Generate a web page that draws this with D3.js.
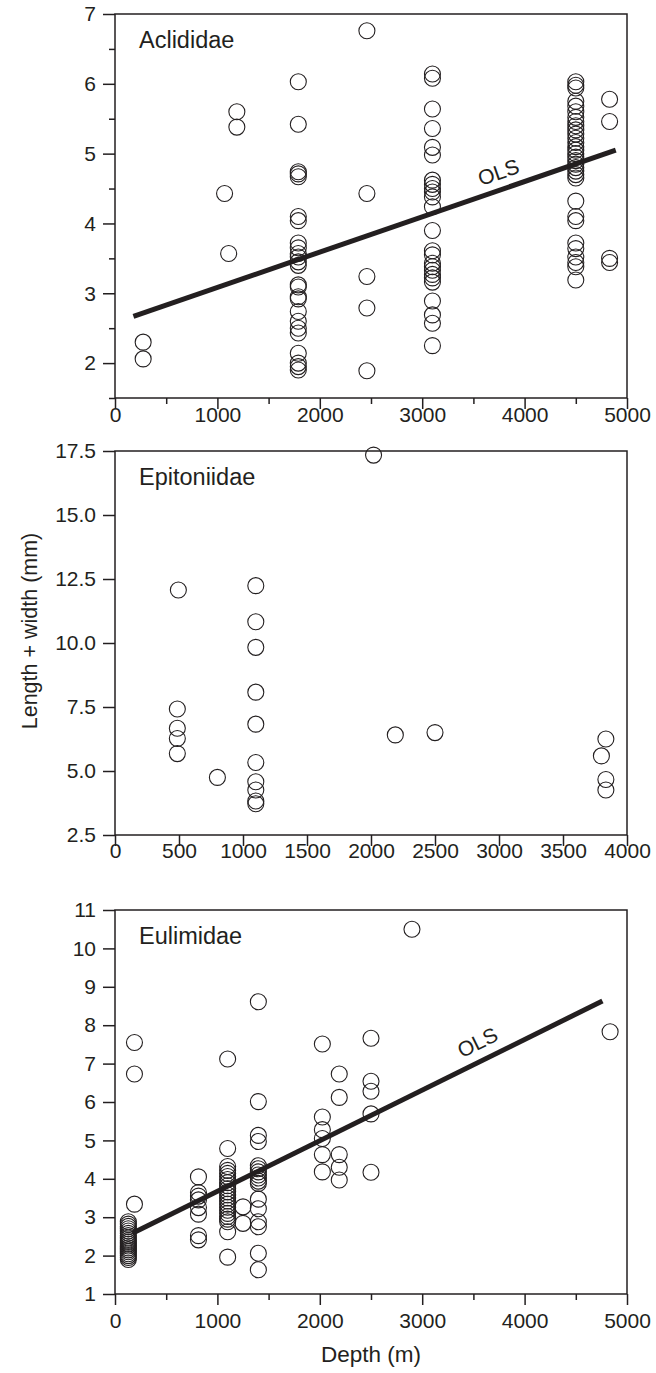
<!DOCTYPE html>
<html>
<head>
<meta charset="utf-8">
<script src="https://cdn.jsdelivr.net/npm/d3@7.8.5/dist/d3.min.js"></script>
<style>
  body { margin: 0; background: #fff; }
  svg text { font-family: "Liberation Sans", Arial, Helvetica, sans-serif; fill: #231f20; }
  .tick text { font-size: 21px; }
</style>
</head>
<body>
<div id="chart"></div>
<script>
// Aclididae - one entry per depth column
const aclDepths = [275, 1070, 1110, 1190, 1790, 2460, 3100, 4500, 4830];
const aclSizes = [
  [2.30, 2.06],
  [4.43],
  [3.57],
  [5.60, 5.38],
  [6.03, 5.42, 4.74, 4.71, 4.67, 4.10, 4.04, 3.72, 3.65, 3.57, 3.52, 3.45, 3.40, 3.12, 3.09, 2.95, 2.92, 2.74, 2.60, 2.50, 2.43, 2.14, 2.00, 1.95, 1.90],
  [6.76, 4.43, 3.24, 2.79, 1.89],
  [6.14, 6.08, 5.64, 5.36, 5.09, 4.98, 4.62, 4.56, 4.50, 4.45, 4.38, 4.24, 3.90, 3.61, 3.55, 3.43, 3.38, 3.33, 3.27, 3.22, 3.16, 2.89, 2.69, 2.57, 2.25],
  [6.03, 5.98, 5.94, 5.75, 5.68, 5.60, 5.52, 5.46, 5.40, 5.34, 5.28, 5.22, 5.16, 5.10, 5.05, 5.00, 4.95, 4.90, 4.85, 4.80, 4.75, 4.70, 4.65, 4.32, 4.10, 4.04, 3.72, 3.64, 3.52, 3.44, 3.38, 3.19],
  [5.78, 5.46, 3.50, 3.44]
];
const aclOls = [[180, 2.67], [4890, 5.05]];
const aclYTicks = [2, 3, 4, 5, 6, 7];
const aclYMinor = [1.5, 2.5, 3.5, 4.5, 5.5, 6.5];
const aclXTicks = [0, 1000, 2000, 3000, 4000, 5000];
const aclXMinor = [500, 1500, 2500, 3500, 4500];

// Epitoniidae
const epiDepths = [495, 487, 800, 1100, 2020, 2190, 2500, 3800, 3835];
const epiSizes = [
  [12.07],
  [7.42, 6.67, 6.27, 5.68],
  [4.75],
  [12.24, 10.83, 9.83, 8.08, 6.83, 5.33, 4.58, 4.26, 3.83, 3.72],
  [17.34],
  [6.41],
  [6.50],
  [5.59],
  [6.25, 4.67, 4.26]
];
const epiYTicks = [2.5, 5, 7.5, 10, 12.5, 15, 17.5];
const epiXTicks = [0, 500, 1000, 1500, 2000, 2500, 3000, 3500, 4000];

// Eulimidae
const eulDepths = [130, 190, 815, 1100, 1250, 1400, 2025, 2190, 2500, 2900, 4835];
const eulSizes = [
  [2.88, 2.82, 2.76, 2.70, 2.64, 2.58, 2.52, 2.46, 2.40, 2.35, 2.30, 2.25, 2.20, 2.15, 2.10, 2.05, 2.00, 1.95, 1.90],
  [7.55, 6.73, 3.34],
  [4.05, 3.64, 3.55, 3.45, 3.25, 3.08, 2.52, 2.41],
  [7.12, 4.79, 4.32, 4.22, 4.14, 4.06, 3.98, 3.90, 3.82, 3.74, 3.66, 3.58, 3.50, 3.42, 3.34, 3.26, 3.18, 3.10, 3.02, 2.95, 2.88, 2.62, 1.96],
  [3.27, 2.84],
  [8.61, 6.01, 5.13, 4.97, 4.34, 4.26, 4.18, 4.10, 4.02, 3.94, 3.88, 3.47, 3.22, 2.88, 2.75, 2.06, 1.63],
  [7.51, 5.61, 5.28, 5.05, 4.63, 4.18],
  [6.73, 6.12, 4.63, 4.30, 3.97],
  [7.66, 6.54, 6.28, 5.69, 4.17],
  [10.50],
  [7.83]
];
const eulOls = [[170, 2.58], [4760, 8.63]];
const eulYTicks = [1, 2, 3, 4, 5, 6, 7, 8, 9, 10, 11];
const eulXTicks = [0, 1000, 2000, 3000, 4000, 5000];
const eulXMinor = [500, 1500, 2500, 3500, 4500];

const width = 656;
const height = 1373;
const left = 115;
const right = 627;
const ink = "#231f20";

const svg = d3.select("#chart")
  .append("svg")
  .attr("width", width)
  .attr("height", height)
  .style("color", ink);

const toPoints = (depths, sizes) =>
  depths.flatMap((d, i) => sizes[i].map((v) => ({ depth: d, size: v })));

const panels = [
  {
    name: "Aclididae", top: 14, bottom: 398,
    xDomain: [0, 5000], yDomain: [1.5, 7],
    points: toPoints(aclDepths, aclSizes),
    xTicks: aclXTicks, xMinor: aclXMinor, yTicks: aclYTicks, yMinor: aclYMinor,
    yFormat: d3.format("d"), xPad: -2,
    ols: aclOls, olsAt: 3800, olsOff: -10
  },
  {
    name: "Epitoniidae", top: 451, bottom: 835,
    xDomain: [0, 4000], yDomain: [2.5, 17.5],
    points: toPoints(epiDepths, epiSizes),
    xTicks: epiXTicks, xMinor: [], yTicks: epiYTicks, yMinor: [],
    yFormat: d3.format(".1f"), xPad: -3
  },
  {
    name: "Eulimidae", top: 910, bottom: 1294,
    xDomain: [0, 5000], yDomain: [1, 11],
    points: toPoints(eulDepths, eulSizes),
    xTicks: eulXTicks, xMinor: eulXMinor, yTicks: eulYTicks, yMinor: [],
    yFormat: d3.format("d"), xPad: 8,
    ols: eulOls, olsAt: 3620, olsOff: -11
  }
];

panels.forEach((p) => {
  const x = d3.scaleLinear().domain(p.xDomain).range([left, right]);
  const y = d3.scaleLinear().domain(p.yDomain).range([p.bottom, p.top]);
  const g = svg.append("g");

  // minor ticks first, then labelled ticks
  if (p.yMinor.length) {
    g.append("g")
      .attr("transform", `translate(${left},0)`)
      .call(d3.axisLeft(y).tickValues(p.yMinor).tickSize(6).tickFormat(""));
  }
  if (p.xMinor.length) {
    g.append("g")
      .attr("transform", `translate(0,${p.bottom})`)
      .call(d3.axisBottom(x).tickValues(p.xMinor).tickSize(6).tickFormat(""));
  }
  g.append("g")
    .attr("transform", `translate(${left},0)`)
    .call(d3.axisLeft(y).tickValues(p.yTicks).tickSize(12).tickPadding(7).tickFormat(p.yFormat));
  g.append("g")
    .attr("transform", `translate(0,${p.bottom})`)
    .call(d3.axisBottom(x).tickValues(p.xTicks).tickSize(11).tickPadding(p.xPad).tickFormat(d3.format("d")));

  g.selectAll(".domain").remove();
  g.selectAll(".tick line").attr("stroke-width", 1.5);
  g.selectAll("g").attr("font-size", null).attr("font-family", null);

  g.append("rect")
    .attr("x", left)
    .attr("y", p.top)
    .attr("width", right - left)
    .attr("height", p.bottom - p.top)
    .attr("fill", "none")
    .attr("stroke", ink)
    .attr("stroke-width", 1.5);

  if (p.ols) {
    g.append("line")
      .attr("x1", x(p.ols[0][0]))
      .attr("y1", y(p.ols[0][1]))
      .attr("x2", x(p.ols[1][0]))
      .attr("y2", y(p.ols[1][1]))
      .attr("stroke", ink)
      .attr("stroke-width", 5);

    const slope = (p.ols[1][1] - p.ols[0][1]) / (p.ols[1][0] - p.ols[0][0]);
    const angle = Math.atan2(
      y(p.ols[1][1]) - y(p.ols[0][1]),
      x(p.ols[1][0]) - x(p.ols[0][0])
    ) * 180 / Math.PI;
    const lx = x(p.olsAt);
    const ly = y(p.ols[0][1] + slope * (p.olsAt - p.ols[0][0]));
    g.append("text")
      .attr("transform", `translate(${lx},${ly}) rotate(${angle})`)
      .attr("y", p.olsOff)
      .attr("text-anchor", "middle")
      .style("font-size", "21px")
      .text("OLS");
  }

  g.append("g")
    .selectAll("circle")
    .data(p.points)
    .join("circle")
    .attr("cx", (d) => x(d.depth))
    .attr("cy", (d) => y(d.size))
    .attr("r", 8)
    .attr("fill", "none")
    .attr("stroke", ink)
    .attr("stroke-width", 1.1);

  g.append("text")
    .attr("x", 139)
    .attr("y", p.top + 34)
    .style("font-size", "23.5px")
    .text(p.name);
});

svg.append("text")
  .attr("transform", "translate(37,631) rotate(-90)")
  .attr("text-anchor", "middle")
  .style("font-size", "21.5px")
  .text("Length + width (mm)");

svg.append("text")
  .attr("x", (left + right) / 2)
  .attr("y", 1362)
  .attr("text-anchor", "middle")
  .style("font-size", "22.5px")
  .text("Depth (m)");
</script>
</body>
</html>
